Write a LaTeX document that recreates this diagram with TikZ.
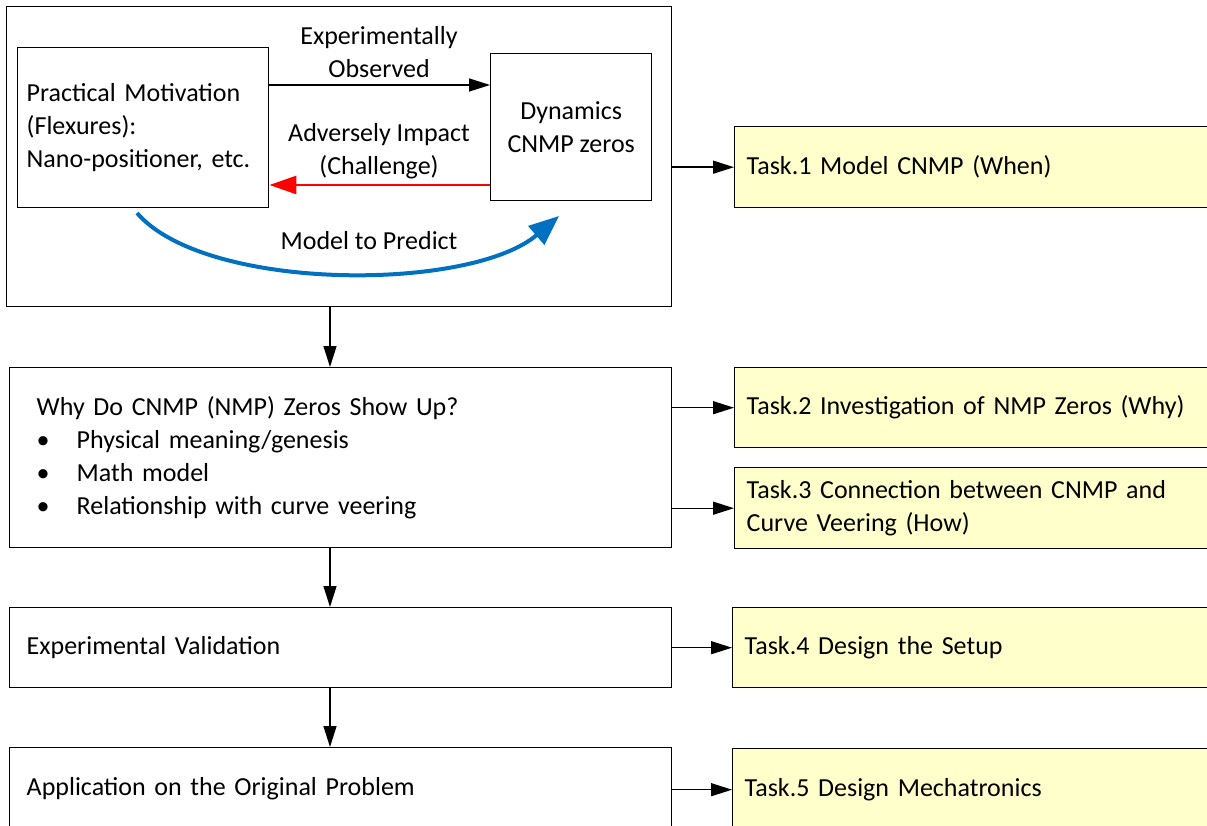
\documentclass[tikz,border=0pt]{standalone}
\usepackage{fontspec}
\setmainfont{Carlito}
\usetikzlibrary{arrows.meta}
\definecolor{taskyellow}{RGB}{255,255,204}
\definecolor{arrowblue}{RGB}{0,112,192}
\definecolor{arrowred}{RGB}{255,0,0}
\begin{document}
\begin{tikzpicture}[x=1pt,y=-1pt,
  font=\fontsize{26}{33}\selectfont,
  box/.style={draw, line width=1.4pt, anchor=north west, inner ysep=0pt},
  task/.style={draw, line width=1.4pt, fill=taskyellow, anchor=north west, inner ysep=0pt, inner xsep=8pt, align=left},
  arr/.style={line width=1.4pt, -{Triangle[length=21pt,width=13pt]}},
  redarr/.style={line width=2.8pt, arrowred, -{Triangle[length=27pt,width=18pt]}},
  bluearr/.style={line width=4pt, arrowblue, -{Triangle[length=30pt,width=24pt]}},
  lbl/.style={align=center, inner sep=0pt}]
\useasboundingbox (0,0) rectangle (1207,826);
\clip (0,0) rectangle (1207,826);
% top group
\node[box, minimum width=665pt, minimum height=300pt] (big) at (6,6) {};
\node[box, minimum height=160pt, text width=233pt, inner xsep=9pt, align=left] (prac) at (17,47) {Practical Motivation\\(Flexures):\\Nano-positioner, etc.};
\node[box, minimum width=161pt, minimum height=147pt, align=center] (dyn) at (490,53) {Dynamics\\CNMP zeros};
\coordinate (ya) at (0,85);
\coordinate (yb) at (0,185);
\draw[arr] (prac.east |- ya) -- (dyn.west |- ya);
\draw[redarr] (dyn.west |- yb) -- (prac.east |- yb);
\node[lbl] (lobs) at (379,52) {Experimentally\\Observed};
\node[lbl] (ladv) at (379,151) {Adversely Impact\\(Challenge)};
\coordinate (b0) at (137,213);
\coordinate (b1) at (559,216);
\draw[bluearr] (b0) .. controls (205,292) and (470,292) .. (b1);
\node[lbl] (lmod) at (369,241) {Model to Predict};
% tasks
\node[task, minimum width=490pt, minimum height=81pt, text width=466pt] (t1) at (734,126) {Task.1 Model CNMP (When)};
\node[box, minimum height=180pt, text width=608pt, inner xsep=27pt, align=left] (why) at (9,367) {Why Do CNMP (NMP) Zeros Show Up?\\
\makebox[40pt][l]{•}Physical meaning/genesis\\
\makebox[40pt][l]{•}Math model\\
\makebox[40pt][l]{•}Relationship with curve veering};
\node[task, minimum width=490pt, minimum height=80pt, text width=466pt] (t2) at (734,367) {Task.2 Investigation of NMP Zeros (Why)};
\node[task, minimum width=490pt, minimum height=81pt, text width=466pt] (t3) at (734,467) {Task.3 Connection between CNMP and\\Curve Veering (How)};
\node[box, minimum height=80pt, text width=628pt, inner xsep=17pt, align=left] (exp) at (9,607) {Experimental Validation};
\node[task, minimum width=490pt, minimum height=80pt, text width=466pt] (t4) at (732,607) {Task.4 Design the Setup};
\node[box, minimum height=82pt, text width=628pt, inner xsep=17pt, align=left] (app) at (9,747) {Application on the Original Problem};
\node[task, minimum width=490pt, minimum height=82pt, text width=466pt] (t5) at (732,748) {Task.5 Design Mechatronics};
% connectors
\coordinate (xd) at (330,0);
\draw[arr] (big.south -| xd) -- (why.north -| xd);
\draw[arr] (why.south -| xd) -- (exp.north -| xd);
\draw[arr] (exp.south -| xd) -- (app.north -| xd);
\draw[arr] (t1.west -| big.east) -- (t1.west);
\draw[arr] (t2.west -| why.east) -- (t2.west);
\draw[arr] (t3.west -| why.east) -- (t3.west);
\draw[arr] (t4.west -| exp.east) -- (t4.west);
\draw[arr] (t5.west -| app.east) -- (t5.west);
\end{tikzpicture}
\end{document}
